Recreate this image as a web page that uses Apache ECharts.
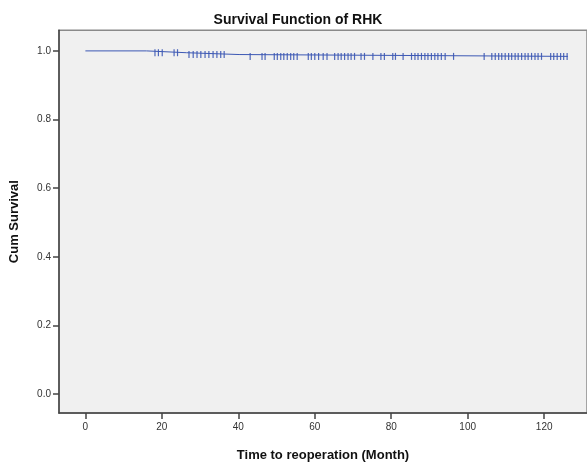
<!DOCTYPE html>
<html>
<head>
<meta charset="utf-8">
<title>Survival Function of RHK</title>
<script src="https://cdn.jsdelivr.net/npm/echarts@6/dist/echarts.min.js"></script>
<style>
    html, body { margin: 0; padding: 0; background: #fff; }
    #chart1 { width: 587px; height: 467px; }
</style>
</head>
<body>
<div id="chart1"></div>
<script>
// 事件时间点 (月) 和对应的累计生存率
var eventTimes = [0, 16.0, 26.4, 40.2];
var eventSurvival = [1.0, 0.9947, 0.9894, 0.984];
var lastTime = 126.2;

// 删失时间点 (+ 号)
var censorTimes = [18.2, 19.1, 20.1, 23.2, 24.1, 27.1, 28.2, 29.2, 30.2, 31.3, 32.3, 33.4, 34.4, 35.4, 36.3,
    43.1, 46.2, 47.0, 49.4, 50.2, 51.1, 51.9, 52.8, 53.7, 54.5, 55.4, 58.3, 59.1, 60.0, 61.0, 62.2, 63.2,
    65.2, 66.1, 66.9, 67.8, 68.7, 69.5, 70.4, 72.1, 73.0, 75.2, 77.3, 78.2, 80.4, 81.1, 83.1, 85.3, 86.2,
    87.0, 87.9, 88.8, 89.6, 90.5, 91.4, 92.2, 93.1, 94.1, 96.3, 104.3, 106.3, 107.2, 108.1, 108.9, 109.8,
    110.7, 111.5, 112.4, 113.2, 114.1, 115.0, 115.8, 116.7, 117.6, 118.4, 119.3, 121.7, 122.5, 123.4,
    124.3, 125.1, 126.0];

var xTicks = [0, 20, 40, 60, 80, 100, 120];
var yTicks = [0, 0.2, 0.4, 0.6, 0.8, 1.0];

// 某时间点的生存率 (阶梯查找)
function survivalAt(t) {
    var s = eventSurvival[0];
    for (var i = 0; i < eventTimes.length; i++) {
        if (eventTimes[i] <= t) s = eventSurvival[i];
    }
    return s;
}

function survivalEchart() {

    var myChart1 = echarts.init(document.getElementById('chart1'));

    var lineData = [];
    for (var i = 0; i < eventTimes.length; i++) {
        lineData.push([eventTimes[i], eventSurvival[i]]);
    }
    lineData.push([lastTime, survivalAt(lastTime)]);

    var censorData = [];
    for (var j = 0; j < censorTimes.length; j++) {
        censorData.push([censorTimes[j], survivalAt(censorTimes[j])]);
    }

    var lineColor = '#3c58b4';

    var option1 = {
        animation: false,
        textStyle: { fontFamily: 'Liberation Sans' },
        title: {
            text: 'Survival Function of RHK',
            left: 298,
            textAlign: 'center',
            top: 13,
            padding: 0,
            textStyle: { fontSize: 14, fontWeight: 'bold', color: '#111', fontFamily: 'Liberation Sans' }
        },
        grid: {
            left: 56.7,
            top: 30.3,
            right: -1,
            bottom: 43.3,
            show: true,
            backgroundColor: '#f0f0f0',
            borderColor: '#8a8a8a',
            borderWidth: 1.5
        },
        xAxis: {
            type: 'value',
            min: -6.9,
            max: 131.2,
            name: 'Time to reoperation (Month)',
            nameLocation: 'middle',
            nameGap: 36,
            nameTextStyle: { fontSize: 13, fontWeight: 'bold', color: '#111' },
            axisLine: { onZero: false, lineStyle: { color: '#444', width: 1.5 } },
            axisTick: { customValues: xTicks, length: 6, lineStyle: { color: '#444', width: 1.5 } },
            axisLabel: { customValues: xTicks, fontSize: 10, color: '#333', margin: 9 },
            splitLine: { show: false }
        },
        yAxis: {
            type: 'value',
            min: -0.055,
            max: 1.06,
            name: 'Cum Survival',
            nameLocation: 'middle',
            nameGap: 38,
            nameTextStyle: { fontSize: 13, fontWeight: 'bold', color: '#111' },
            axisLine: { show: true, onZero: false, lineStyle: { color: '#444', width: 1.5 } },
            axisTick: { show: true, customValues: yTicks, length: 6, lineStyle: { color: '#444', width: 1.5 } },
            axisLabel: {
                customValues: yTicks, fontSize: 10, color: '#333', margin: 8,
                formatter: function (v) { return v.toFixed(1); }
            },
            splitLine: { show: false }
        },
        series: [
            {
                name: 'RHK',
                type: 'line',
                step: 'end',
                data: lineData,
                symbol: 'none',
                lineStyle: { color: lineColor, width: 1 }
            },
            {
                name: 'Censored',
                type: 'scatter',
                data: censorData,
                symbol: 'rect',
                symbolSize: [1.2, 7],
                itemStyle: { color: lineColor, opacity: 0.9 }
            }
        ]
    };

    // 使用刚指定的配置项和数据显示图表。
    myChart1.setOption(option1);
}

survivalEchart();
</script>
</body>
</html>
